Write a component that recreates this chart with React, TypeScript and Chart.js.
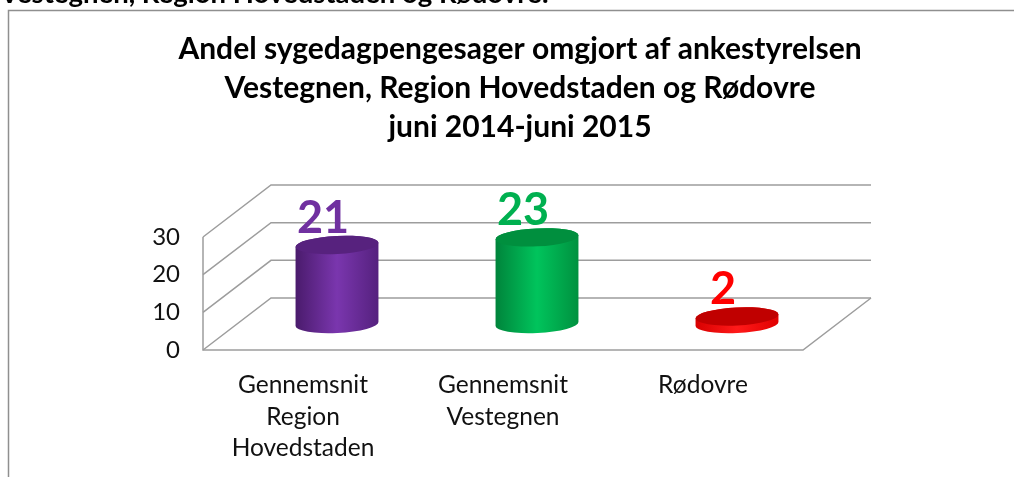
import React, { useEffect, useRef } from "react";
import { Chart, registerables } from "chart.js";

Chart.register(...registerables);

// ---------- data ----------
const categories: string[][] = [
  ["Gennemsnit", "Region", "Hovedstaden"],
  ["Gennemsnit", "Vestegnen"],
  ["Rødovre"],
];
const values: number[] = [21, 23, 2];
const yMin = 0;
const yMax = 30;
const yStep = 10;
const titleLines: string[] = [
  "Andel sygedagpengesager omgjort af ankestyrelsen",
  "Vestegnen, Region Hovedstaden og Rødovre",
  "juni 2014-juni 2015",
];
const headerText = "Vestegnen, Region Hovedstaden og Rødovre:";

// ---------- styles ----------
const FONT = "Lato, 'Open Sans', sans-serif";
const labelColors = ["#7030a0", "#00b050", "#ff0000"];
const sideStops = [
  ["#4a1b6c", "#7a36ae", "#55217e"],
  ["#00843b", "#00c45c", "#00913f"],
  ["#d80000", "#ff1a1a", "#e00000"],
];
const topColors = ["#57227e", "#008f3e", "#c00000"];
const DEPTH_X = 68;
const DEPTH_Y = -52;
const GRID = "#9d9d9d";

function drawCylinder(
  ctx: CanvasRenderingContext2D,
  cx: number,
  rx: number,
  ry: number,
  top: number,
  base: number,
  stops: string[],
  topColor: string
) {
  const rot = -0.05;
  const g = ctx.createLinearGradient(cx - rx, 0, cx + rx, 0);
  g.addColorStop(0, stops[0]);
  g.addColorStop(0.5, stops[1]);
  g.addColorStop(1, stops[2]);
  ctx.save();
  ctx.beginPath();
  ctx.ellipse(cx, base, rx, ry, rot, Math.PI, 0, true);
  ctx.ellipse(cx, top, rx, ry, rot, 0, Math.PI, true);
  ctx.closePath();
  ctx.fillStyle = g;
  ctx.fill();
  ctx.beginPath();
  ctx.ellipse(cx, top, rx, ry, rot, 0, Math.PI * 2);
  ctx.fillStyle = topColor;
  ctx.fill();
  ctx.restore();
}

const threeDPlugin = {
  id: "threeD",
  beforeDraw(chart: any) {
    const ctx: CanvasRenderingContext2D = chart.ctx;
    ctx.save();
    // frame
    ctx.strokeStyle = "#8f8f8f";
    ctx.lineWidth = 1.5;
    ctx.beginPath();
    ctx.moveTo(8.5, 1100);
    ctx.lineTo(8.5, 10.5);
    ctx.lineTo(2000, 10.5);
    ctx.stroke();
    // cut-off heading above frame
    ctx.fillStyle = "#000";
    ctx.font = `bold 27.5px ${FONT}`;
    ctx.textAlign = "left";
    ctx.textBaseline = "alphabetic";
    ctx.fillText(headerText, 0, 2.5);
    // title
    ctx.textAlign = "center";
    ctx.font = `bold 30px ${FONT}`;
    const baselines = [59, 98, 137];
    titleLines.forEach((t, i) => ctx.fillText(t, 520, baselines[i]));
    ctx.restore();
  },
  beforeDatasetsDraw(chart: any) {
    const ctx: CanvasRenderingContext2D = chart.ctx;
    const { left, right } = chart.chartArea;
    const y = chart.scales.y;
    ctx.save();
    ctx.strokeStyle = GRID;
    ctx.lineWidth = 1.5;
    const ticks = y.ticks.map((t: any) => t.value);
    ticks.forEach((v: number) => {
      const py = y.getPixelForValue(v);
      ctx.beginPath();
      ctx.moveTo(left, py);
      ctx.lineTo(left + DEPTH_X, py + DEPTH_Y);
      ctx.lineTo(right + DEPTH_X, py + DEPTH_Y);
      ctx.stroke();
    });
    const y0 = y.getPixelForValue(yMin);
    const yT = y.getPixelForValue(yMax);
    ctx.beginPath();
    ctx.moveTo(left, yT);
    ctx.lineTo(left, y0);
    ctx.lineTo(right, y0);
    ctx.lineTo(right + DEPTH_X, y0 + DEPTH_Y);
    ctx.stroke();
    ctx.restore();
  },
  afterDatasetsDraw(chart: any) {
    const ctx: CanvasRenderingContext2D = chart.ctx;
    const meta = chart.getDatasetMeta(0);
    ctx.save();
    meta.data.forEach((bar: any, i: number) => {
      const rx = bar.width / 2;
      const ry = 9;
      const cx = bar.x + DEPTH_X / 2;
      const base = bar.base + DEPTH_Y / 2;
      const top = bar.y + DEPTH_Y / 2;
      drawCylinder(ctx, cx, rx, ry, top, base, sideStops[i], topColors[i]);
      ctx.fillStyle = labelColors[i];
      ctx.font = `bold 45px ${FONT}`;
      ctx.textAlign = "center";
      ctx.textBaseline = "alphabetic";
      ctx.fillText(String(values[i]), cx - 14, top - ry - 3);
    });
    ctx.restore();
  },
};

export default function App() {
  const ref = useRef<HTMLCanvasElement>(null);
  useEffect(() => {
    if (!ref.current) return;
    const chart = new Chart(ref.current, {
      type: "bar",
      data: {
        labels: categories as any,
        datasets: [
          {
            data: values,
            backgroundColor: "rgba(0,0,0,0)",
            borderWidth: 0,
            barPercentage: 0.415,
            categoryPercentage: 1,
          },
        ],
      },
      options: {
        animation: false,
        responsive: false,
        maintainAspectRatio: false,
        layout: { padding: { left: 153, right: 211, top: 237, bottom: 0 } },
        plugins: {
          legend: { display: false },
          tooltip: { enabled: false },
          title: { display: false },
        },
        scales: {
          x: {
            grid: { display: false, drawTicks: false },
            border: { display: false },
            ticks: {
              color: "#111",
              padding: 20,
              maxRotation: 0,
              autoSkip: false,
              font: { family: FONT, size: 24.5, lineHeight: 1.27 },
            },
            afterFit: (s: any) => {
              s.height = 127;
            },
          },
          y: {
            min: yMin,
            max: yMax,
            grid: { display: false, drawTicks: false },
            border: { display: false },
            ticks: {
              stepSize: yStep,
              color: "#111",
              padding: 23,
              font: { family: FONT, size: 24 },
            },
            afterFit: (s: any) => {
              s.width = 50;
            },
          },
        },
      },
      plugins: [threeDPlugin],
    });
    return () => chart.destroy();
  }, []);
  return (
    <div
      style={{
        position: "absolute",
        left: 0,
        top: 0,
        width: 1014,
        height: 477,
        overflow: "hidden",
        background: "#fff",
      }}
    >
      <canvas ref={ref} width={1014} height={477} style={{ width: 1014, height: 477, display: "block" }} />
    </div>
  );
}
